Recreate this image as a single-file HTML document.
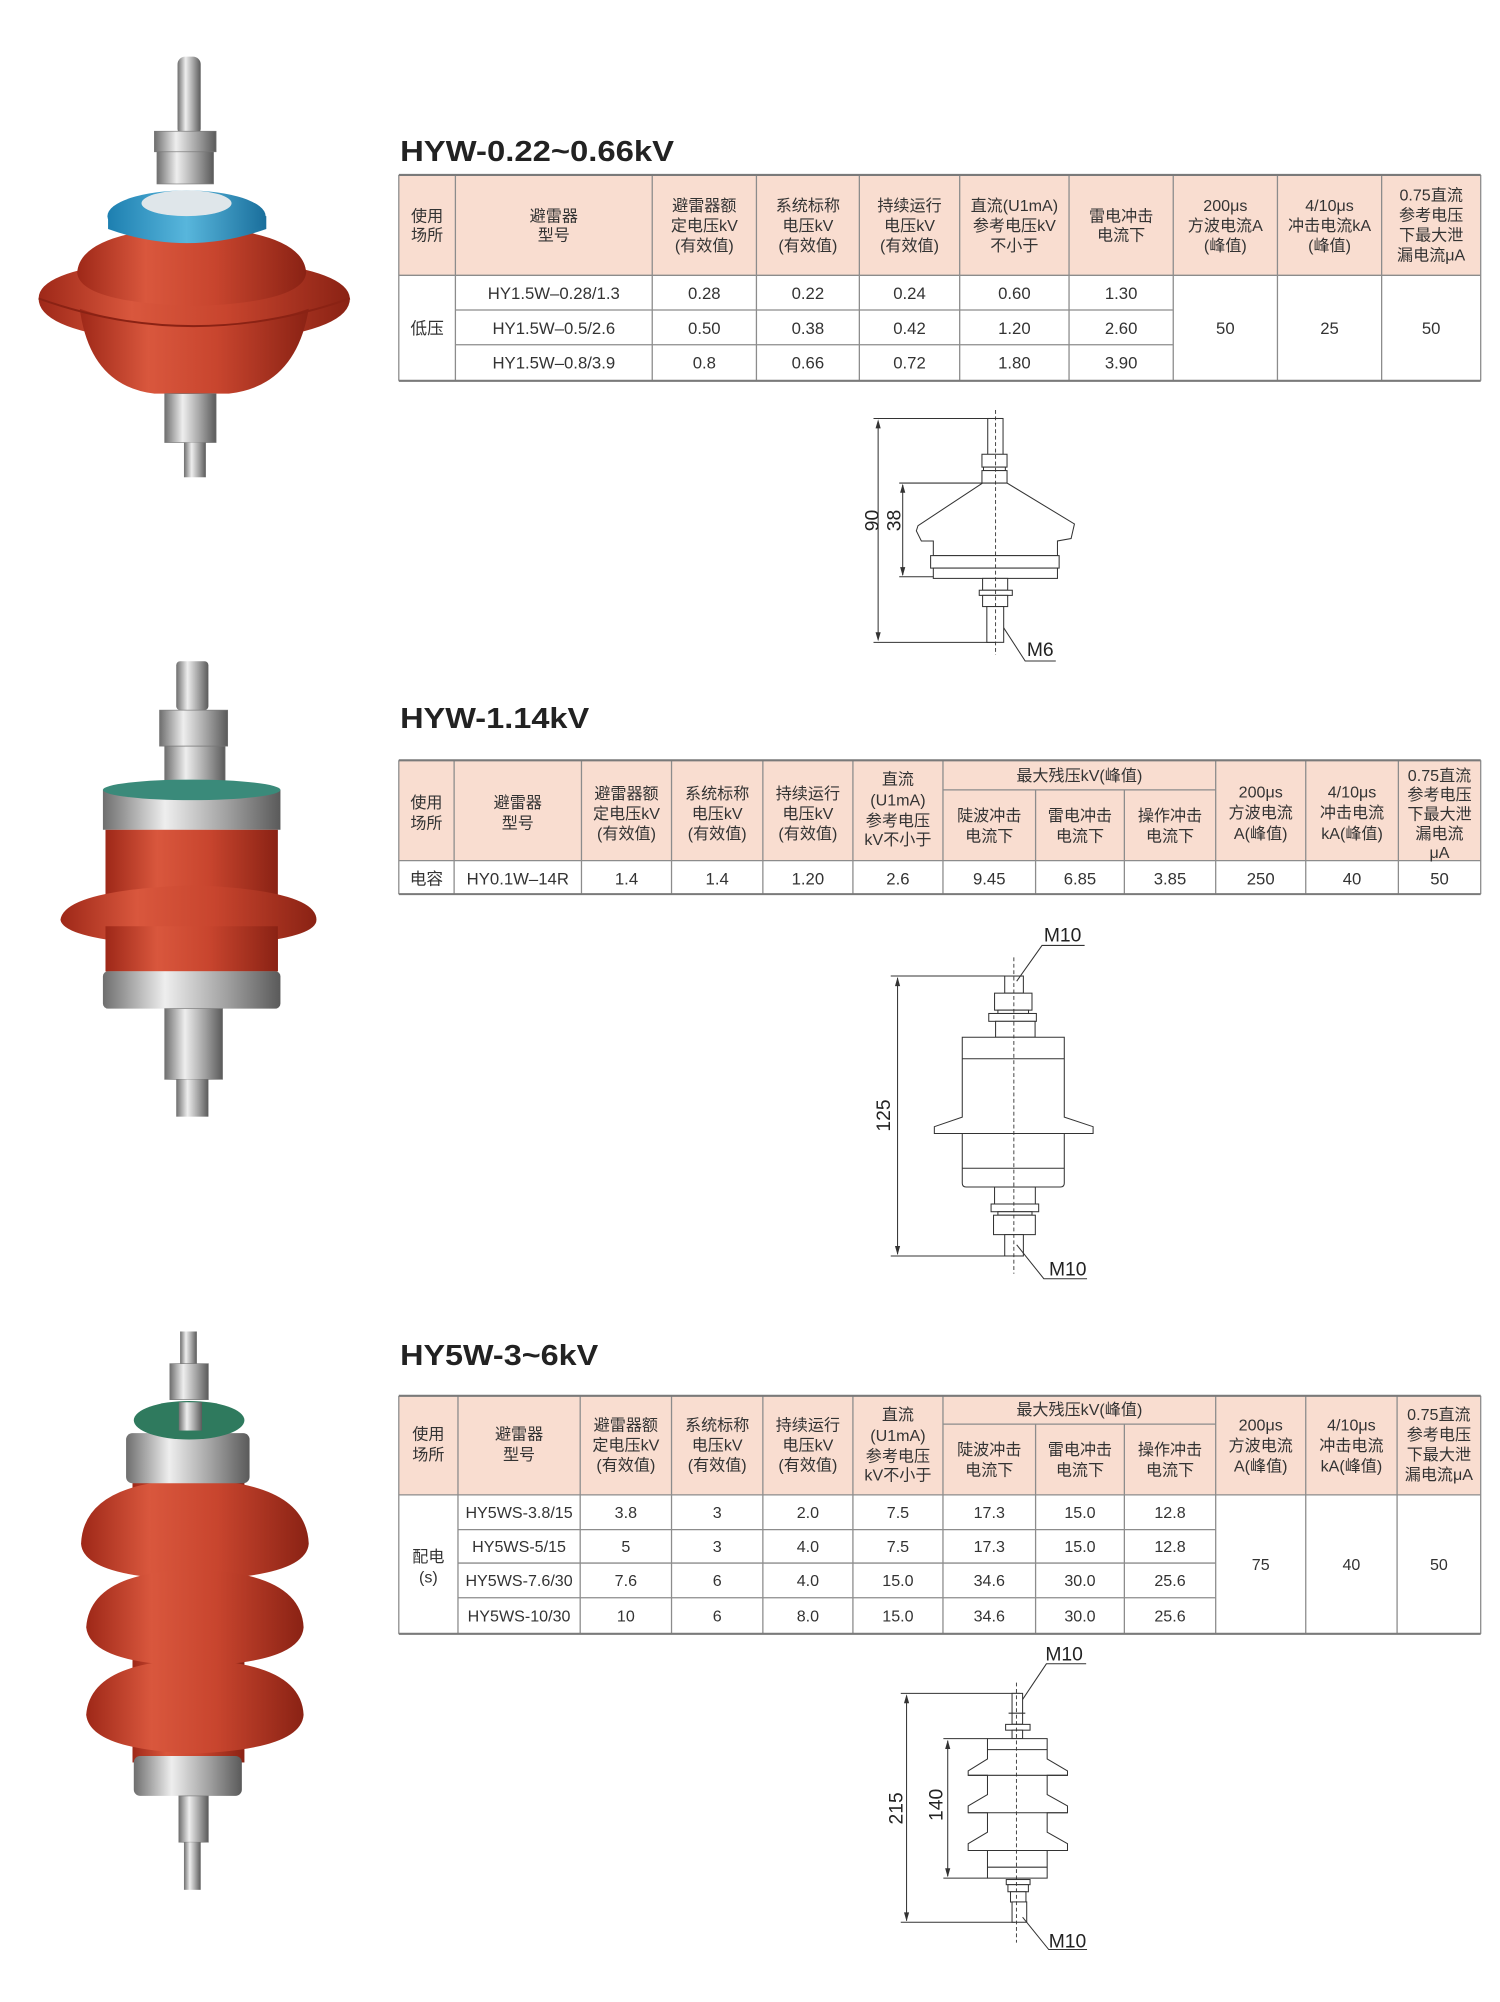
<!DOCTYPE html>
<html><head><meta charset="utf-8">
<style>
html,body{margin:0;padding:0;background:#fff;}
svg{display:block;}
.t{font-family:"Liberation Sans","Noto Sans CJK SC",sans-serif;font-size:13px;fill:#333;text-anchor:middle;}
.h{font-family:"Liberation Sans","Noto Sans CJK SC",sans-serif;font-size:12.5px;fill:#333;text-anchor:middle;}
.ttl{font-family:"Liberation Sans",sans-serif;font-weight:bold;font-size:22px;fill:#222;}
.d{font-family:"Liberation Sans",sans-serif;font-size:15px;fill:#222;}
.ln{stroke:#8c8c8c;stroke-width:1;fill:none;}
.ol{stroke:#7a7a7a;stroke-width:1.6;fill:none;}
.dw{stroke:#333;stroke-width:0.8;fill:none;}
.dwf{stroke:#333;stroke-width:0.8;fill:#fff;}
.cl{stroke:#333;stroke-width:0.7;stroke-dasharray:3,2;fill:none;}
</style></head><body>
<svg width="1500" height="2002" viewBox="0 0 1166 1556.2" preserveAspectRatio="none" xmlns="http://www.w3.org/2000/svg">
<defs>
<linearGradient id="red" x1="0" x2="1" y1="0" y2="0">
<stop offset="0" stop-color="#9e2818"/><stop offset="0.3" stop-color="#d9573d"/><stop offset="0.6" stop-color="#c8452e"/><stop offset="1" stop-color="#8a2214"/></linearGradient>
<linearGradient id="sil" x1="0" x2="1" y1="0" y2="0">
<stop offset="0" stop-color="#6e6e6e"/><stop offset="0.35" stop-color="#eeeeee"/><stop offset="0.7" stop-color="#a0a0a0"/><stop offset="1" stop-color="#5a5a5a"/></linearGradient>
<linearGradient id="blue" x1="0" x2="1" y1="0" y2="0">
<stop offset="0" stop-color="#1d7fb0"/><stop offset="0.5" stop-color="#58b6dc"/><stop offset="1" stop-color="#1a6f9c"/></linearGradient>
</defs>

<!-- ===== Photo 1 ===== -->
<g>
<rect x="138" y="44" width="18" height="62" rx="6" fill="url(#sil)"/>
<rect x="120" y="102" width="48" height="16" fill="url(#sil)" stroke="#777" stroke-width="0.5"/>
<rect x="122" y="118" width="44" height="25" fill="url(#sil)" stroke="#777" stroke-width="0.5"/>
<path d="M30 232 Q30 205 150 200 Q270 205 272 232 Q272 262 150 268 Q30 262 30 232Z" fill="url(#red)"/>
<path d="M60 212 Q62 180 150 176 Q236 180 238 212 Q236 235 150 238 Q62 235 60 212Z" fill="url(#red)"/>
<path d="M62 240 Q70 300 120 306 L178 306 Q230 300 240 240 Q150 270 62 240Z" fill="url(#red)"/>
<path d="M30 232 Q150 275 272 232" stroke="#8a2214" stroke-width="1.5" fill="none"/>
<path d="M84 168 L84 178 Q145 200 207 178 L207 168 Z" fill="url(#blue)"/>
<ellipse cx="145" cy="168" rx="61.5" ry="20" fill="url(#blue)"/>
<ellipse cx="145" cy="158" rx="35" ry="10" fill="#dfe6ea"/>
<rect x="128" y="306" width="40" height="38" fill="url(#sil)" stroke="#777" stroke-width="0.5"/>
<rect x="143" y="344" width="17" height="27" fill="url(#sil)"/>
</g>

<!-- ===== Photo 2 ===== -->
<g>
<rect x="137" y="514" width="25" height="38" rx="3" fill="url(#sil)"/>
<rect x="124" y="552" width="53" height="28" fill="url(#sil)" stroke="#777" stroke-width="0.5"/>
<rect x="128" y="580" width="47" height="36" fill="url(#sil)" stroke="#777" stroke-width="0.5"/>
<rect x="80" y="614" width="138" height="31" fill="url(#sil)"/>
<ellipse cx="149" cy="614" rx="69" ry="8" fill="#3a8a7a"/>
<rect x="82" y="645" width="134" height="110" fill="url(#red)"/>
<path d="M47 715 Q50 692 150 688 Q246 692 246 715 Q246 732 150 736 Q50 732 47 715Z" fill="url(#red)"/>
<rect x="82" y="720" width="134" height="35" fill="url(#red)"/>
<rect x="80" y="755" width="138" height="29" rx="4" fill="url(#sil)"/>
<rect x="128" y="784" width="45" height="55" fill="url(#sil)" stroke="#777" stroke-width="0.5"/>
<rect x="137" y="839" width="25" height="29" fill="url(#sil)"/>
</g>

<!-- ===== Photo 3 ===== -->
<g>
<rect x="140" y="1035" width="13" height="26" fill="url(#sil)"/>
<rect x="132" y="1060" width="30" height="28" fill="url(#sil)" stroke="#777" stroke-width="0.5"/>
<rect x="103" y="1250" width="87" height="120" fill="url(#red)"/>
<rect x="103" y="1150" width="87" height="40" fill="url(#red)"/>
<path d="M63 1200 Q65 1152 150 1150 Q238 1152 240 1200 Q238 1226 150 1228 Q65 1226 63 1200Z" fill="url(#red)"/>
<path d="M67 1265 Q70 1222 150 1220 Q234 1222 236 1265 Q234 1293 150 1295 Q70 1293 67 1265Z" fill="url(#red)"/>
<path d="M67 1333 Q70 1292 150 1290 Q234 1292 236 1333 Q234 1360 150 1363 Q70 1360 67 1333Z" fill="url(#red)"/>
<rect x="98" y="1114" width="96" height="39" rx="5" fill="url(#sil)"/>
<ellipse cx="147" cy="1104" rx="43" ry="15" fill="#2f7a5e"/>
<rect x="139" y="1090" width="18" height="22" fill="url(#sil)"/>
<rect x="104" y="1365" width="84" height="31" rx="5" fill="url(#sil)"/>
<rect x="139" y="1396" width="23" height="36" fill="url(#sil)" stroke="#777" stroke-width="0.5"/>
<rect x="143" y="1432" width="13" height="37" fill="url(#sil)"/>
</g>

<!-- ===== Titles ===== -->
<text class="ttl" x="311" y="125" textLength="213" lengthAdjust="spacingAndGlyphs">HYW-0.22~0.66kV</text>
<text class="ttl" x="311" y="566" textLength="147" lengthAdjust="spacingAndGlyphs">HYW-1.14kV</text>
<text class="ttl" x="311" y="1061" textLength="154" lengthAdjust="spacingAndGlyphs">HY5W-3~6kV</text>

<!-- ===== Table 1 ===== -->
<rect x="310" y="136" width="841" height="78" fill="#f9ddd0"/>
<g class="ln">
<line x1="310" y1="214" x2="1151" y2="214"/>
<line x1="354" y1="241" x2="912" y2="241"/><line x1="354" y1="268" x2="912" y2="268"/>
<line x1="310" y1="136" x2="310" y2="296"/><line x1="354" y1="136" x2="354" y2="296"/>
<line x1="507" y1="136" x2="507" y2="296"/><line x1="588" y1="136" x2="588" y2="296"/>
<line x1="668" y1="136" x2="668" y2="296"/><line x1="746" y1="136" x2="746" y2="296"/>
<line x1="831" y1="136" x2="831" y2="296"/><line x1="912" y1="136" x2="912" y2="296"/>
<line x1="993" y1="136" x2="993" y2="296"/><line x1="1074" y1="136" x2="1074" y2="296"/>
<line x1="1151" y1="136" x2="1151" y2="296"/>
</g>
<line class="ol" x1="310" y1="136" x2="1151" y2="136"/><line class="ol" x1="310" y1="296" x2="1151" y2="296"/>
<g class="h">
<text x="332" y="172">使用</text><text x="332" y="187">场所</text>
<text x="430.5" y="172">避雷器</text><text x="430.5" y="187">型号</text>
<text x="547.5" y="164">避雷器额</text><text x="547.5" y="179.5">定电压kV</text><text x="547.5" y="195">(有效值)</text>
<text x="628" y="164">系统标称</text><text x="628" y="179.5">电压kV</text><text x="628" y="195">(有效值)</text>
<text x="707" y="164">持续运行</text><text x="707" y="179.5">电压kV</text><text x="707" y="195">(有效值)</text>
<text x="788.5" y="164">直流(U1mA)</text><text x="788.5" y="179.5">参考电压kV</text><text x="788.5" y="195">不小于</text>
<text x="871.5" y="172">雷电冲击</text><text x="871.5" y="187">电流下</text>
<text x="952.5" y="164">200μs</text><text x="952.5" y="179.5">方波电流A</text><text x="952.5" y="195">(峰值)</text>
<text x="1033.5" y="164">4/10μs</text><text x="1033.5" y="179.5">冲击电流kA</text><text x="1033.5" y="195">(峰值)</text>
<text x="1112.5" y="156">0.75直流</text><text x="1112.5" y="171.5">参考电压</text><text x="1112.5" y="187">下最大泄</text><text x="1112.5" y="202.5">漏电流μA</text>
</g>
<g class="t">
<text x="332" y="259.5">低压</text>
<text x="430.5" y="232.5">HY1.5W–0.28/1.3</text><text x="547.5" y="232.5">0.28</text><text x="628" y="232.5">0.22</text><text x="707" y="232.5">0.24</text><text x="788.5" y="232.5">0.60</text><text x="871.5" y="232.5">1.30</text>
<text x="430.5" y="259.5">HY1.5W–0.5/2.6</text><text x="547.5" y="259.5">0.50</text><text x="628" y="259.5">0.38</text><text x="707" y="259.5">0.42</text><text x="788.5" y="259.5">1.20</text><text x="871.5" y="259.5">2.60</text>
<text x="430.5" y="286.5">HY1.5W–0.8/3.9</text><text x="547.5" y="286.5">0.8</text><text x="628" y="286.5">0.66</text><text x="707" y="286.5">0.72</text><text x="788.5" y="286.5">1.80</text><text x="871.5" y="286.5">3.90</text>
<text x="952.5" y="259.5">50</text><text x="1033.5" y="259.5">25</text><text x="1112.5" y="259.5">50</text>
</g>

<!-- ===== Table 2 ===== -->
<rect x="310" y="591" width="841" height="78" fill="#f9ddd0"/>
<g class="ln">
<line x1="733" y1="614" x2="945" y2="614"/>
<line x1="310" y1="669" x2="1151" y2="669"/>
<line x1="310" y1="591" x2="310" y2="695"/><line x1="353" y1="591" x2="353" y2="695"/>
<line x1="452" y1="591" x2="452" y2="695"/><line x1="522" y1="591" x2="522" y2="695"/>
<line x1="593" y1="591" x2="593" y2="695"/><line x1="663" y1="591" x2="663" y2="695"/>
<line x1="733" y1="591" x2="733" y2="695"/><line x1="805" y1="614" x2="805" y2="695"/>
<line x1="874" y1="614" x2="874" y2="695"/><line x1="945" y1="591" x2="945" y2="695"/>
<line x1="1015" y1="591" x2="1015" y2="695"/><line x1="1087" y1="591" x2="1087" y2="695"/>
<line x1="1151" y1="591" x2="1151" y2="695"/>
</g>
<line class="ol" x1="310" y1="591" x2="1151" y2="591"/><line class="ol" x1="310" y1="695" x2="1151" y2="695"/>
<g class="h">
<text x="331.5" y="628">使用</text><text x="331.5" y="644">场所</text>
<text x="402.5" y="628">避雷器</text><text x="402.5" y="644">型号</text>
<text x="487" y="621">避雷器额</text><text x="487" y="636.5">定电压kV</text><text x="487" y="652">(有效值)</text>
<text x="557.5" y="621">系统标称</text><text x="557.5" y="636.5">电压kV</text><text x="557.5" y="652">(有效值)</text>
<text x="628" y="621">持续运行</text><text x="628" y="636.5">电压kV</text><text x="628" y="652">(有效值)</text>
<text x="698" y="610">直流</text><text x="698" y="626">(U1mA)</text><text x="698" y="642">参考电压</text><text x="698" y="657">kV不小于</text>
<text x="839" y="607">最大残压kV(峰值)</text>
<text x="769" y="638">陡波冲击</text><text x="769" y="654">电流下</text>
<text x="839.5" y="638">雷电冲击</text><text x="839.5" y="654">电流下</text>
<text x="909.5" y="638">操作冲击</text><text x="909.5" y="654">电流下</text>
<text x="980" y="620">200μs</text><text x="980" y="636">方波电流</text><text x="980" y="652">A(峰值)</text>
<text x="1051" y="620">4/10μs</text><text x="1051" y="636">冲击电流</text><text x="1051" y="652">kA(峰值)</text>
<text x="1119" y="607">0.75直流</text><text x="1119" y="622">参考电压</text><text x="1119" y="637">下最大泄</text><text x="1119" y="652">漏电流</text><text x="1119" y="667">μA</text>
</g>
<g class="t">
<text x="331.5" y="687.5">电容</text><text x="402.5" y="687.5">HY0.1W–14R</text><text x="487" y="687.5">1.4</text><text x="557.5" y="687.5">1.4</text><text x="628" y="687.5">1.20</text><text x="698" y="687.5">2.6</text><text x="769" y="687.5">9.45</text><text x="839.5" y="687.5">6.85</text><text x="909.5" y="687.5">3.85</text><text x="980" y="687.5">250</text><text x="1051" y="687.5">40</text><text x="1119" y="687.5">50</text>
</g>

<!-- ===== Table 3 ===== -->
<rect x="310" y="1085" width="841" height="77" fill="#f9ddd0"/>
<g class="ln">
<line x1="733" y1="1107" x2="945" y2="1107"/>
<line x1="310" y1="1162" x2="1151" y2="1162"/>
<line x1="356" y1="1189" x2="945" y2="1189"/><line x1="356" y1="1215" x2="945" y2="1215"/><line x1="356" y1="1242" x2="945" y2="1242"/>
<line x1="310" y1="1085" x2="310" y2="1270"/><line x1="356" y1="1085" x2="356" y2="1270"/>
<line x1="451" y1="1085" x2="451" y2="1270"/><line x1="522" y1="1085" x2="522" y2="1270"/>
<line x1="593" y1="1085" x2="593" y2="1270"/><line x1="663" y1="1085" x2="663" y2="1270"/>
<line x1="733" y1="1085" x2="733" y2="1270"/><line x1="805" y1="1107" x2="805" y2="1270"/>
<line x1="874" y1="1107" x2="874" y2="1270"/><line x1="945" y1="1085" x2="945" y2="1270"/>
<line x1="1015" y1="1085" x2="1015" y2="1270"/><line x1="1086" y1="1085" x2="1086" y2="1270"/>
<line x1="1151" y1="1085" x2="1151" y2="1270"/>
</g>
<line class="ol" x1="310" y1="1085" x2="1151" y2="1085"/><line class="ol" x1="310" y1="1270" x2="1151" y2="1270"/>
<g class="h">
<text x="333" y="1119">使用</text><text x="333" y="1135">场所</text>
<text x="403.5" y="1119">避雷器</text><text x="403.5" y="1135">型号</text>
<text x="486.5" y="1112">避雷器额</text><text x="486.5" y="1127.5">定电压kV</text><text x="486.5" y="1143">(有效值)</text>
<text x="557.5" y="1112">系统标称</text><text x="557.5" y="1127.5">电压kV</text><text x="557.5" y="1143">(有效值)</text>
<text x="628" y="1112">持续运行</text><text x="628" y="1127.5">电压kV</text><text x="628" y="1143">(有效值)</text>
<text x="698" y="1104">直流</text><text x="698" y="1120">(U1mA)</text><text x="698" y="1136">参考电压</text><text x="698" y="1151">kV不小于</text>
<text x="839" y="1100">最大残压kV(峰值)</text>
<text x="769" y="1131">陡波冲击</text><text x="769" y="1147">电流下</text>
<text x="839.5" y="1131">雷电冲击</text><text x="839.5" y="1147">电流下</text>
<text x="909.5" y="1131">操作冲击</text><text x="909.5" y="1147">电流下</text>
<text x="980" y="1112">200μs</text><text x="980" y="1128">方波电流</text><text x="980" y="1144">A(峰值)</text>
<text x="1050.5" y="1112">4/10μs</text><text x="1050.5" y="1128">冲击电流</text><text x="1050.5" y="1144">kA(峰值)</text>
<text x="1118.5" y="1104">0.75直流</text><text x="1118.5" y="1119.5">参考电压</text><text x="1118.5" y="1135">下最大泄</text><text x="1118.5" y="1150.5">漏电流μA</text>
</g>
<g class="t" style="font-size:12.5px">
<text x="333" y="1214">配电</text><text x="333" y="1230">(s)</text>
<text x="403.5" y="1180">HY5WS-3.8/15</text><text x="486.5" y="1180">3.8</text><text x="557.5" y="1180">3</text><text x="628" y="1180">2.0</text><text x="698" y="1180">7.5</text><text x="769" y="1180">17.3</text><text x="839.5" y="1180">15.0</text><text x="909.5" y="1180">12.8</text>
<text x="403.5" y="1206.5">HY5WS-5/15</text><text x="486.5" y="1206.5">5</text><text x="557.5" y="1206.5">3</text><text x="628" y="1206.5">4.0</text><text x="698" y="1206.5">7.5</text><text x="769" y="1206.5">17.3</text><text x="839.5" y="1206.5">15.0</text><text x="909.5" y="1206.5">12.8</text>
<text x="403.5" y="1233">HY5WS-7.6/30</text><text x="486.5" y="1233">7.6</text><text x="557.5" y="1233">6</text><text x="628" y="1233">4.0</text><text x="698" y="1233">15.0</text><text x="769" y="1233">34.6</text><text x="839.5" y="1233">30.0</text><text x="909.5" y="1233">25.6</text>
<text x="403.5" y="1260.5">HY5WS-10/30</text><text x="486.5" y="1260.5">10</text><text x="557.5" y="1260.5">6</text><text x="628" y="1260.5">8.0</text><text x="698" y="1260.5">15.0</text><text x="769" y="1260.5">34.6</text><text x="839.5" y="1260.5">30.0</text><text x="909.5" y="1260.5">25.6</text>
<text x="980" y="1220.5">75</text><text x="1050.5" y="1220.5">40</text><text x="1118.5" y="1220.5">50</text>
</g>

<!-- ===== Drawing 1 ===== -->
<g>
<line class="dw" x1="679" y1="325.3" x2="774" y2="325.3"/>
<line class="dw" x1="679" y1="499.3" x2="774" y2="499.3"/>
<line class="dw" x1="682.6" y1="328" x2="682.6" y2="497"/>
<path d="M682.6 326 l-2 7 h4z M682.6 498.5 l-2 -7 h4z" fill="#333"/>
<line class="dw" x1="699" y1="375.5" x2="764" y2="375.5"/>
<line class="dw" x1="699" y1="448.3" x2="725.5" y2="448.3"/>
<line class="dw" x1="701.7" y1="377" x2="701.7" y2="447"/>
<path d="M701.7 376 l-2 7 h4z M701.7 447.8 l-2 -7 h4z" fill="#333"/>
<rect class="dwf" x="767.8" y="325.3" width="11.9" height="28"/>
<rect class="dwf" x="763.3" y="353.1" width="19.5" height="10"/>
<rect class="dwf" x="764.5" y="363.1" width="17" height="2.7"/>
<rect class="dwf" x="763.3" y="365.8" width="19.5" height="9.7"/>
<path class="dwf" d="M763.8 375.5 L713.6 408.6 L712.3 412.6 L716.2 420.5 L725.5 420.5 L725.5 431.9 L822 431.9 L822 420.5 L832.6 418.6 L835.2 407.3 L782.8 375.5 Z"/>
<rect class="dwf" x="723.4" y="431.9" width="99.9" height="9.7"/>
<rect class="dwf" x="725.5" y="441.6" width="96.5" height="8"/>
<rect class="dwf" x="763.8" y="449.6" width="19.5" height="9.2"/>
<rect class="dwf" x="761.2" y="458.8" width="25.7" height="4"/>
<rect class="dwf" x="763.8" y="462.8" width="19.5" height="8.7"/>
<rect class="dwf" x="767.1" y="471.5" width="13.1" height="27.8"/>
<line class="cl" x1="773.9" y1="318.7" x2="773.9" y2="509"/>
<polyline class="dw" points="780.2,488 796.9,513.8 820.7,513.8"/>
<text class="d" x="798.2" y="510">M6</text>
<text class="d" transform="translate(683,404.6) rotate(-90)" text-anchor="middle">90</text>
<text class="d" transform="translate(700,404.6) rotate(-90)" text-anchor="middle">38</text>
</g>

<!-- ===== Drawing 2 ===== -->
<g>
<line class="dw" x1="692.4" y1="758.7" x2="781" y2="758.7"/>
<line class="dw" x1="692.4" y1="976.3" x2="781" y2="976.3"/>
<line class="dw" x1="697.7" y1="760" x2="697.7" y2="975"/>
<path d="M697.7 759.5 l-2 7 h4z M697.7 975.5 l-2 -7 h4z" fill="#333"/>
<rect class="dwf" x="781" y="758.7" width="14.5" height="13.3"/>
<rect class="dwf" x="773.1" y="772" width="29.1" height="13.2"/>
<rect class="dwf" x="775.7" y="785.2" width="23.8" height="2.6"/>
<rect class="dwf" x="768.6" y="787.8" width="37" height="6.1"/>
<rect class="dwf" x="773.9" y="793.9" width="30.7" height="12.4"/>
<path class="dwf" d="M748 806.3 L827.3 806.3 L827.3 868.4 L849.7 875.8 L849.7 881.1 L726.3 881.1 L726.3 875.8 L748 868.4 Z"/>
<line class="dw" x1="748" y1="823" x2="827.3" y2="823"/>
<path class="dwf" d="M748 881.1 L827.3 881.1 L827.3 919.7 Q827.3 922.7 824.3 922.7 L751 922.7 Q748 922.7 748 919.7 Z"/>
<line class="dw" x1="748" y1="908.1" x2="827.3" y2="908.1"/>
<rect class="dwf" x="773.1" y="922.7" width="31.7" height="13.2"/>
<rect class="dwf" x="770.4" y="935.9" width="37" height="6"/>
<rect class="dwf" x="775.7" y="941.9" width="26.5" height="2.7"/>
<rect class="dwf" x="772.3" y="944.6" width="32.5" height="15.1"/>
<rect class="dwf" x="781" y="959.7" width="14.5" height="16.6"/>
<line class="cl" x1="788.1" y1="744.2" x2="788.1" y2="990.1"/>
<polyline class="dw" points="790.3,762.7 810,734.9 843.1,734.9"/>
<text class="d" x="811.4" y="732">M10</text>
<polyline class="dw" points="790.3,967.6 811.4,994 845,994"/>
<text class="d" x="815.4" y="991.4">M10</text>
<text class="d" transform="translate(692,867.1) rotate(-90)" text-anchor="middle">125</text>
</g>

<!-- ===== Drawing 3 ===== -->
<g>
<line class="dw" x1="700.2" y1="1316.3" x2="792.8" y2="1316.3"/>
<line class="dw" x1="700.2" y1="1494.2" x2="789" y2="1494.2"/>
<line class="dw" x1="704.7" y1="1318" x2="704.7" y2="1493"/>
<path d="M704.7 1317 l-2 7 h4z M704.7 1493.5 l-2 -7 h4z" fill="#333"/>
<line class="dw" x1="733.3" y1="1351.5" x2="767.6" y2="1351.5"/>
<line class="dw" x1="733.3" y1="1459.9" x2="767.6" y2="1459.9"/>
<line class="dw" x1="736.7" y1="1353" x2="736.7" y2="1458.5"/>
<path d="M736.7 1352.5 l-2 7 h4z M736.7 1459.2 l-2 -7 h4z" fill="#333"/>
<rect class="dwf" x="786.7" y="1316.3" width="8.2" height="24"/>
<line class="dw" x1="784" y1="1331.7" x2="797" y2="1331.7"/>
<rect class="dwf" x="781.7" y="1340.4" width="19" height="4.5"/>
<rect class="dwf" x="786.7" y="1344.9" width="8.2" height="6.6"/>
<path class="dwf" d="M767.6 1351.5 L814 1351.5 L814 1367.3 L829.8 1376.6 L829.8 1380 L814 1380 L814 1395 L829.8 1403.8 L829.8 1409.1 L814 1409.1 L814 1424.2 L829.8 1433.1 L829.8 1438.4 L814 1438.4 L814 1459.9 L767.6 1459.9 L767.6 1438.4 L752.6 1438.4 L752.6 1433.1 L767.6 1424.2 L767.6 1409.1 L752.6 1409.1 L752.6 1403.8 L767.6 1395 L767.6 1380 L752.6 1380 L752.6 1376.6 L767.6 1367.3 Z"/>
<line class="dw" x1="767.6" y1="1360" x2="814" y2="1360"/>
<line class="dw" x1="752.6" y1="1380" x2="829.8" y2="1380"/>
<line class="dw" x1="752.6" y1="1409.1" x2="829.8" y2="1409.1"/>
<line class="dw" x1="752.6" y1="1438.4" x2="829.8" y2="1438.4"/>
<line class="dw" x1="767.6" y1="1451.4" x2="814" y2="1451.4"/>
<rect class="dwf" x="782.2" y="1461" width="18.5" height="4"/>
<rect class="dwf" x="783.5" y="1465" width="15.9" height="5.5"/>
<rect class="dwf" x="785.5" y="1470.5" width="12" height="8"/>
<rect class="dwf" x="786.7" y="1478.4" width="11.4" height="15.8"/>
<line class="cl" x1="790.1" y1="1307.9" x2="790.1" y2="1510"/>
<polyline class="dw" points="794.9,1321 813.4,1293.3 844.3,1293.3"/>
<text class="d" x="812.6" y="1290.7">M10</text>
<polyline class="dw" points="794.9,1490.3 815.2,1515.4 845,1515.4"/>
<text class="d" x="815.2" y="1514">M10</text>
<text class="d" transform="translate(701.5,1405.7) rotate(-90)" text-anchor="middle">215</text>
<text class="d" transform="translate(732.5,1403) rotate(-90)" text-anchor="middle">140</text>
</g>
</svg>
</body></html>
